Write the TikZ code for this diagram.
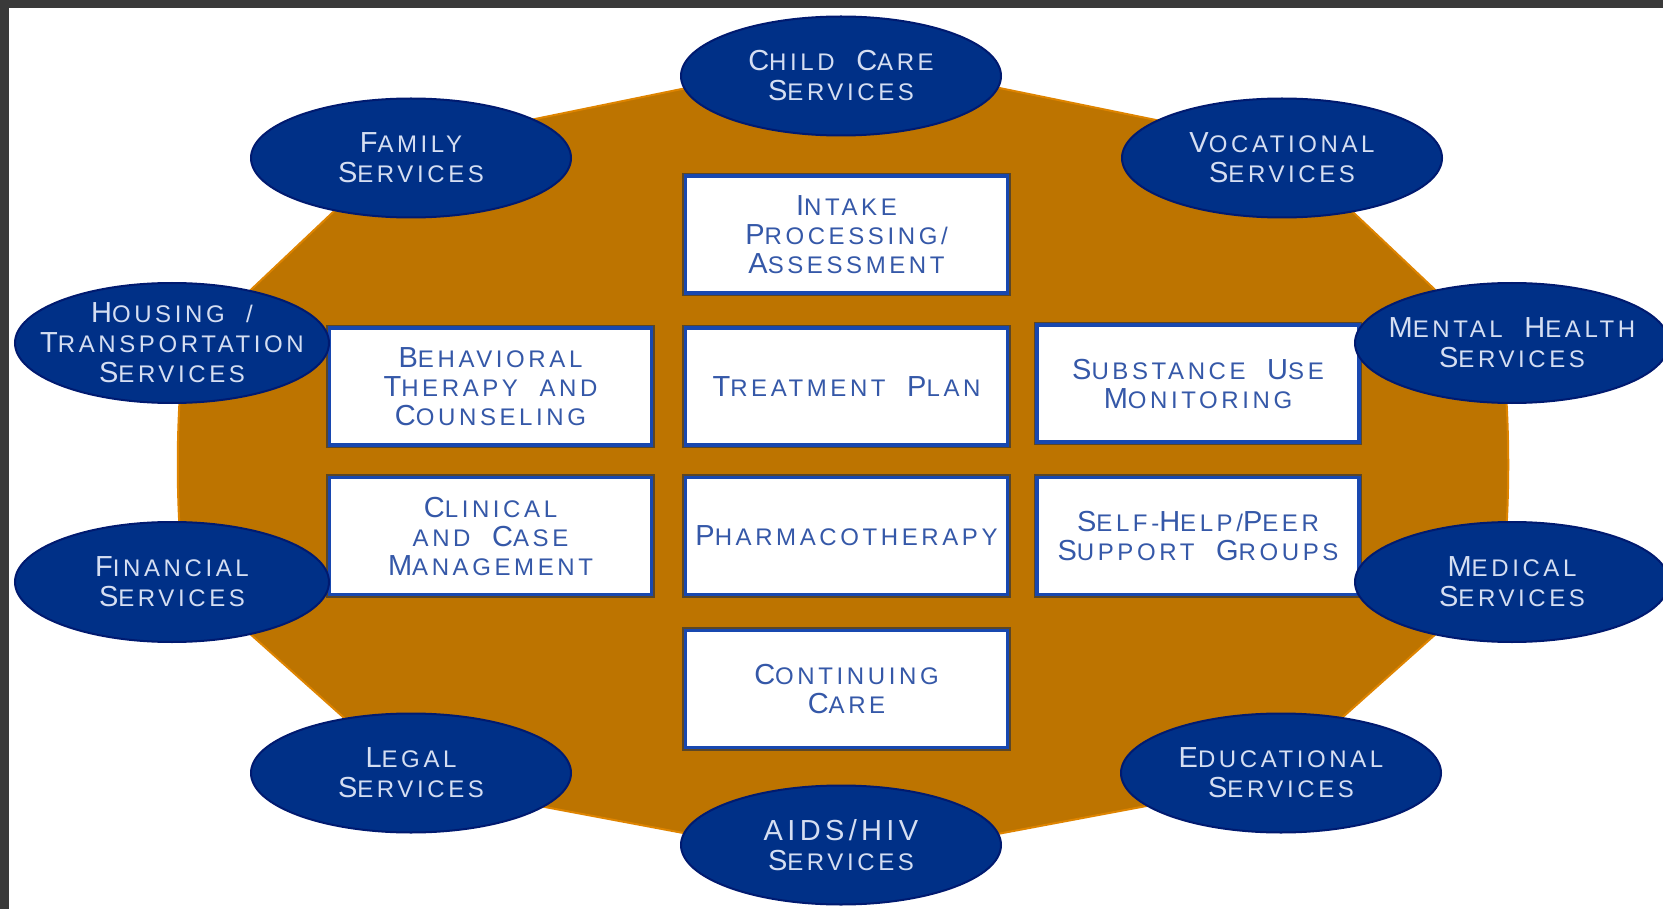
\documentclass[tikz,border=0pt]{standalone}
\usepackage{fontspec}
\usetikzlibrary{shapes.geometric}
\newfontfamily\dfont[LetterSpace=15,WordSpace=2.1]{Liberation Sans}
\definecolor{framegray}{HTML}{3A3A3A}
\definecolor{orangefill}{HTML}{BD7400}
\definecolor{orangeedge}{HTML}{DE8400}
\definecolor{navy}{HTML}{003087}
\definecolor{navyedge}{HTML}{001A70}
\definecolor{boxblue}{HTML}{1848B0}
\definecolor{boxshadow}{HTML}{5A4628}
\definecolor{boxtext}{HTML}{3558A8}
\definecolor{svctext}{HTML}{D5DEF2}
\newcommand\Bg[1]{{\fontsize{29}{30}\selectfont #1}}
\begin{document}
\begin{tikzpicture}[x=1pt,y=-1pt,
  svc/.style={ellipse, fill=navy, draw=navyedge, line width=2pt, minimum width=320pt, minimum height=119pt, inner sep=0pt},
  svcside/.style={svc, minimum width=314pt, minimum height=120pt},
  svclabel/.style={text=svctext, font=\dfont\fontsize{24}{30}\selectfont, align=center, inner sep=0pt},
  stepbox/.style={rectangle, fill=white, draw=boxblue, line width=3.5pt, minimum width=322pt, minimum height=117pt, inner sep=0pt, text=boxtext, font=\dfont\fontsize{24}{29}\selectfont, align=center, preaction={draw=boxshadow, line width=6.5pt}}
]
\useasboundingbox (0,0) rectangle (1663,909);
\clip (0,0) rectangle (1663,909);
\fill[white] (0,0) rectangle (1663,909);
\fill[framegray] (0,0) rectangle (1663,8);
\fill[framegray] (0,0) rectangle (9,909);

% orange background shape
\fill[orangefill, draw=orangeedge, line width=2pt]
  (843,56) -- (403,146) -- (183,354) .. controls (176,430) and (176,500) .. (183,574)
  -- (417,783) -- (843,863) -- (1269,783) -- (1503,574)
  .. controls (1510,500) and (1510,430) .. (1503,354) -- (1283,146) -- cycle;

% central boxes
\node[stepbox] (intake) at (846.5,234.5) {\Bg{I}NTAKE\\\Bg{P}ROCESSING/\\\Bg{A}SSESSMENT};
\node[stepbox] (behav) at (490.5,386.5) {\Bg{B}EHAVIORAL\\\Bg{T}HERAPY AND\\\Bg{C}OUNSELING};
\node[stepbox] (treat) at (846.5,386.5) {\Bg{T}REATMENT \Bg{P}LAN};
\node[stepbox] (subst) at (1198,383.5) {\Bg{S}UBSTANCE \Bg{U}SE\\\Bg{M}ONITORING};
\node[stepbox] (clin) at (490.5,536) {\Bg{C}LINICAL\\AND \Bg{C}ASE\\\Bg{M}ANAGEMENT};
\node[stepbox] (pharma) at (846.5,536) {\Bg{P}HARMACOTHERAPY};
\node[stepbox] (selfhelp) at (1198,536) {\Bg{S}ELF-\Bg{H}ELP/\Bg{P}EER\\\Bg{S}UPPORT \Bg{G}ROUPS};
\node[stepbox] (cont) at (846.5,689) {\Bg{C}ONTINUING\\\Bg{C}ARE};

% service ellipses
\node[svc] (child) at (841,76) {};
\node[svclabel] (child-t) at (child.center) {\Bg{C}HILD \Bg{C}ARE\\\Bg{S}ERVICES};
\node[svc] (family) at (411,158) {};
\node[svclabel] (family-t) at (family.center) {\Bg{F}AMILY\\\Bg{S}ERVICES};
\node[svc] (voc) at (1282,158) {};
\node[svclabel] (voc-t) at (voc.center) {\Bg{V}OCATIONAL\\\Bg{S}ERVICES};
\node[svcside] (housing) at (172,343) {};
\node[svclabel] (housing-t) at (housing.center) {\Bg{H}OUSING /\\\Bg{T}RANSPORTATION\\\Bg{S}ERVICES};
\node[svcside] (mental) at (1512,343) {};
\node[svclabel] (mental-t) at (mental.center) {\Bg{M}ENTAL \Bg{H}EALTH\\\Bg{S}ERVICES};
\node[svcside] (fin) at (172,582) {};
\node[svclabel] (fin-t) at (fin.center) {\Bg{F}INANCIAL\\\Bg{S}ERVICES};
\node[svcside] (med) at (1512,582) {};
\node[svclabel] (med-t) at (med.center) {\Bg{M}EDICAL\\\Bg{S}ERVICES};
\node[svc] (legal) at (411,773) {};
\node[svclabel] (legal-t) at (legal.center) {\Bg{L}EGAL\\\Bg{S}ERVICES};
\node[svc] (edu) at (1281,773) {};
\node[svclabel] (edu-t) at (edu.center) {\Bg{E}DUCATIONAL\\\Bg{S}ERVICES};
\node[svc] (aids) at (841,845) {};
\node[svclabel] (aids-t) at (aids.center) {\Bg{AIDS/HIV}\\\Bg{S}ERVICES};
\end{tikzpicture}
\end{document}
